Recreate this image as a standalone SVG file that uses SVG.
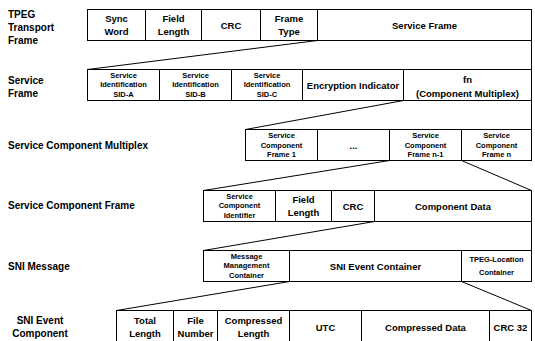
<svg xmlns="http://www.w3.org/2000/svg" width="535" height="341" viewBox="0 0 535 341">
<style>
rect{fill:#fff;stroke:#000;stroke-width:1}
line,.c{stroke:#000;stroke-width:1;fill:none}
text{font-family:"Liberation Sans",Arial,sans-serif;font-weight:bold;fill:#000;dominant-baseline:central}
.m{text-anchor:middle;font-size:9.5px}
.s{text-anchor:middle;font-size:7.5px}
.l{font-size:10px}
.lc{font-size:10px;text-anchor:middle}
</style>
<rect width="535" height="341" style="stroke:none"/>
<g id="labels">
<text class="l" x="8" y="14.5">TPEG</text>
<text class="l" x="8" y="27.5">Transport</text>
<text class="l" x="8" y="40.5">Frame</text>
<text class="l" x="8" y="80">Service</text>
<text class="l" x="8" y="93.5">Frame</text>
<text class="l" x="8" y="145">Service Component Multiplex</text>
<text class="l" x="8" y="205">Service Component Frame</text>
<text class="l" x="8" y="266">SNI Message</text>
<text class="lc" x="40" y="320">SNI Event</text>
<text class="lc" x="40" y="333">Component</text>
</g>
<g id="connectors">
<line x1="87.5" y1="69.5" x2="317.5" y2="40.5"/>
<line x1="531.5" y1="40.5" x2="531.5" y2="69.5"/>
<line x1="245.5" y1="129.5" x2="403.5" y2="100.5"/>
<line x1="531.5" y1="100.5" x2="531.5" y2="129.5"/>
<line x1="203.5" y1="190.5" x2="389.5" y2="160.5"/>
<line x1="461.5" y1="160.5" x2="531.5" y2="190.5"/>
<line x1="203.5" y1="250.5" x2="374.5" y2="221.5"/>
<line x1="531.5" y1="221.5" x2="531.5" y2="250.5"/>
<line x1="116.5" y1="310.5" x2="289.5" y2="281.5"/>
<line x1="461.5" y1="281.5" x2="531.5" y2="310.5"/>
</g>
<g id="tpeg-transport-frame">
<rect x="87.5" y="9.5" width="58" height="31"/>
<rect x="145.5" y="9.5" width="56" height="31"/>
<rect x="201.5" y="9.5" width="59" height="31"/>
<rect x="260.5" y="9.5" width="57" height="31"/>
<rect x="317.5" y="9.5" width="214" height="31"/>
<text class="m" x="116.5" y="18.5">Sync</text>
<text class="m" x="116.5" y="31">Word</text>
<text class="m" x="173.5" y="18.5">Field</text>
<text class="m" x="173.5" y="31">Length</text>
<text class="m" x="231" y="25">CRC</text>
<text class="m" x="289" y="18.5">Frame</text>
<text class="m" x="289" y="31">Type</text>
<text class="m" x="424.5" y="25">Service Frame</text>
</g>
<g id="service-frame">
<rect x="87.5" y="69.5" width="72" height="31"/>
<rect x="159.5" y="69.5" width="72" height="31"/>
<rect x="231.5" y="69.5" width="71" height="31"/>
<rect x="302.5" y="69.5" width="101" height="31"/>
<rect x="403.5" y="69.5" width="128" height="31"/>
<text class="s" x="123.5" y="75">Service</text>
<text class="s" x="123.5" y="84.5">Identification</text>
<text class="s" x="123.5" y="94">SID-A</text>
<text class="s" x="195.5" y="75">Service</text>
<text class="s" x="195.5" y="84.5">Identification</text>
<text class="s" x="195.5" y="94">SID-B</text>
<text class="s" x="267" y="75">Service</text>
<text class="s" x="267" y="84.5">Identification</text>
<text class="s" x="267" y="94">SID-C</text>
<text class="m" x="353" y="85.5">Encryption Indicator</text>
<text class="m" x="467.5" y="79">fn</text>
<text class="m" x="467.5" y="93">(Component Multiplex)</text>
</g>
<g id="service-component-multiplex">
<rect x="245.5" y="129.5" width="72" height="31"/>
<rect x="317.5" y="129.5" width="72" height="31"/>
<rect x="389.5" y="129.5" width="72" height="31"/>
<rect x="461.5" y="129.5" width="70" height="31"/>
<text class="s" x="281.5" y="135.5">Service</text>
<text class="s" x="281.5" y="145">Component</text>
<text class="s" x="281.5" y="154.5">Frame 1</text>
<text class="m" x="353.5" y="145">...</text>
<text class="s" x="425.5" y="135.5">Service</text>
<text class="s" x="425.5" y="145">Component</text>
<text class="s" x="425.5" y="154.5">Frame n-1</text>
<text class="s" x="496.5" y="135.5">Service</text>
<text class="s" x="496.5" y="145">Component</text>
<text class="s" x="496.5" y="154.5">Frame n</text>
</g>
<g id="service-component-frame">
<rect x="203.5" y="190.5" width="72" height="31"/>
<rect x="275.5" y="190.5" width="56" height="31"/>
<rect x="331.5" y="190.5" width="43" height="31"/>
<rect x="374.5" y="190.5" width="157" height="31"/>
<text class="s" x="239.5" y="196">Service</text>
<text class="s" x="239.5" y="205.5">Component</text>
<text class="s" x="239.5" y="215">Identifier</text>
<text class="m" x="303.5" y="199">Field</text>
<text class="m" x="303.5" y="212">Length</text>
<text class="m" x="353" y="206">CRC</text>
<text class="m" x="453" y="206">Component Data</text>
</g>
<g id="sni-message">
<rect x="203.5" y="250.5" width="86" height="31"/>
<rect x="289.5" y="250.5" width="172" height="31"/>
<rect x="461.5" y="250.5" width="70" height="31"/>
<text class="s" x="246.5" y="256">Message</text>
<text class="s" x="246.5" y="265.5">Management</text>
<text class="s" x="246.5" y="275">Container</text>
<text class="m" x="375.5" y="266">SNI Event Container</text>
<text class="s" x="496.5" y="259.5">TPEG-Location</text>
<text class="s" x="496.5" y="272">Container</text>
</g>
<g id="sni-event-component">
<rect x="116.5" y="310.5" width="57" height="34"/>
<rect x="173.5" y="310.5" width="44" height="34"/>
<rect x="217.5" y="310.5" width="72" height="34"/>
<rect x="289.5" y="310.5" width="72" height="34"/>
<rect x="361.5" y="310.5" width="128" height="34"/>
<rect x="489.5" y="310.5" width="42" height="34"/>
<text class="m" x="145" y="320">Total</text>
<text class="m" x="145" y="333">Length</text>
<text class="m" x="195.5" y="320">File</text>
<text class="m" x="195.5" y="333">Number</text>
<text class="m" x="253.5" y="320">Compressed</text>
<text class="m" x="253.5" y="333">Length</text>
<text class="m" x="325.5" y="327">UTC</text>
<text class="m" x="425.5" y="327">Compressed Data</text>
<text class="m" x="510.5" y="327">CRC 32</text>
</g>
</svg>
